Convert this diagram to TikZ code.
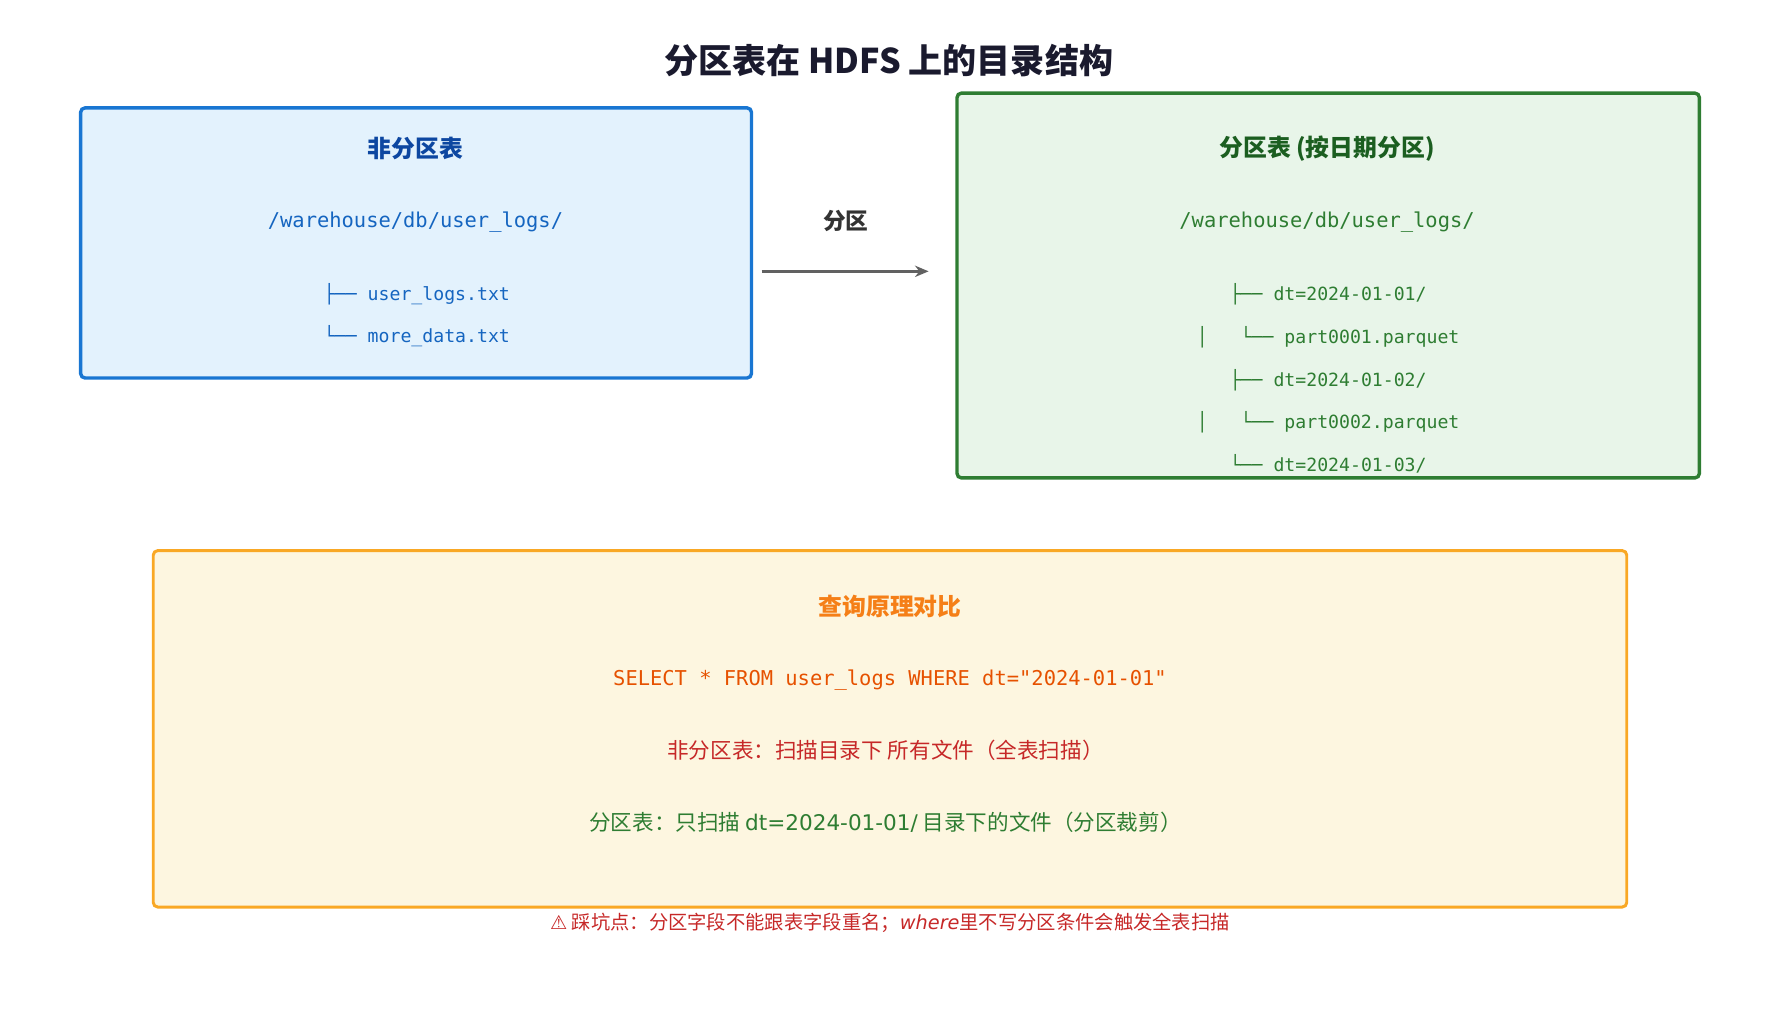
\documentclass[tikz,border=0pt]{standalone}
\usepackage{fontspec}
\setmainfont{Noto Sans CJK SC}
\setmonofont{DejaVu Sans Mono}
\newfontfamily\dv{DejaVu Sans}
\usetikzlibrary{arrows.meta}
\definecolor{bblue}{HTML}{1976D2}\definecolor{fblue}{HTML}{E3F2FD}
\definecolor{tblue}{HTML}{0D47A1}\definecolor{pblue}{HTML}{1565C0}
\definecolor{bgreen}{HTML}{2E7D32}\definecolor{fgreen}{HTML}{E8F5E9}
\definecolor{tgreen}{HTML}{1B5E20}
\definecolor{borange}{HTML}{F9A825}\definecolor{forange}{HTML}{FDF6E0}
\definecolor{torange}{HTML}{F57F17}\definecolor{sql}{HTML}{E65100}
\definecolor{tred}{HTML}{C62828}\definecolor{darkt}{HTML}{1A1A2E}
\tikzset{
 box/.style={draw, rounded corners=2pt, line width=1.5pt},
 ttl/.style={font=\bfseries\fontsize{10.5}{12}\selectfont},
 mono/.style={font=\ttfamily\fontsize{9}{11}\selectfont},
 tree/.style={font=\ttfamily\fontsize{8}{10}\selectfont},
 txt/.style={font=\fontsize{9.5}{11}\selectfont},
}
\begin{document}
\begin{tikzpicture}[x=0.5pt,y=-0.5pt]
\useasboundingbox (0,0) rectangle (1568,907.3);
\node[font=\bfseries\fontsize{15}{17}\selectfont, text=darkt] (title) at (783,53) {分区表在 HDFS 上的目录结构};
% left
\draw[box, bblue, fill=fblue] (71,95) rectangle (662,333);
\node[ttl, text=tblue] (lt) at (366,131) {非分区表};
\node[mono, text=pblue] (lp) at (366,196) {/warehouse/db/user\_logs/};
\node[tree, text=pblue, anchor=west, inner sep=0pt] (l1) at (285,259) {├── user\_logs.txt};
\node[tree, text=pblue, anchor=west, inner sep=0pt] (l2) at (285,296) {└── more\_data.txt};
% arrow
\coordinate (as) at (671,239); \coordinate (ae) at (818,239);
\draw[line width=1.6pt, color=black!62, -{Stealth[length=6pt,width=5pt]}] (as) -- (ae);
\node[font=\bfseries\fontsize{10}{12}\selectfont, text=black!80] (al) at (745,195) {分区};
% right
\draw[box, bgreen, fill=fgreen] (843,82) rectangle (1497,421);
\node[ttl, text=tgreen] (rt) at (1169,131) {分区表 (按日期分区)};
\node[mono, text=bgreen] (rp) at (1169,196) {/warehouse/db/user\_logs/};
\node[tree, text=bgreen] (r1) at (1170,259) {├── dt=2024-01-01/};
\node[tree, text=bgreen] (r2) at (1170,297) {│\ \ \ └── part0001.parquet};
\node[tree, text=bgreen] (r3) at (1170,335) {├── dt=2024-01-02/};
\node[tree, text=bgreen] (r4) at (1170,372) {│\ \ \ └── part0002.parquet};
\node[tree, text=bgreen] (r5) at (1170,409) {└── dt=2024-01-03/};
% bottom
\draw[box, line width=1.3pt, borange, fill=forange] (135,485) rectangle (1433,799);
\node[ttl, text=torange] (bt) at (784,534) {查询原理对比};
\node[mono, text=sql] (bs) at (784,599) {SELECT * FROM user\_logs WHERE dt="2024-01-01"};
\node[txt, text=tred] (b1) at (780,661) {非分区表：扫描目录下 所有文件（全表扫描）};
\node[txt, text=bgreen] (b2) at (780,724) {分区表：只扫描 {\dv dt=2024-01-01/} 目录下的文件（分区裁剪）};
\node[font=\fontsize{8.5}{10}\selectfont, text=tred] (ft) at (784,813) {{\dv ⚠} 踩坑点：分区字段不能跟表字段重名；{\dv\itshape where}里不写分区条件会触发全表扫描};
\end{tikzpicture}
\end{document}
